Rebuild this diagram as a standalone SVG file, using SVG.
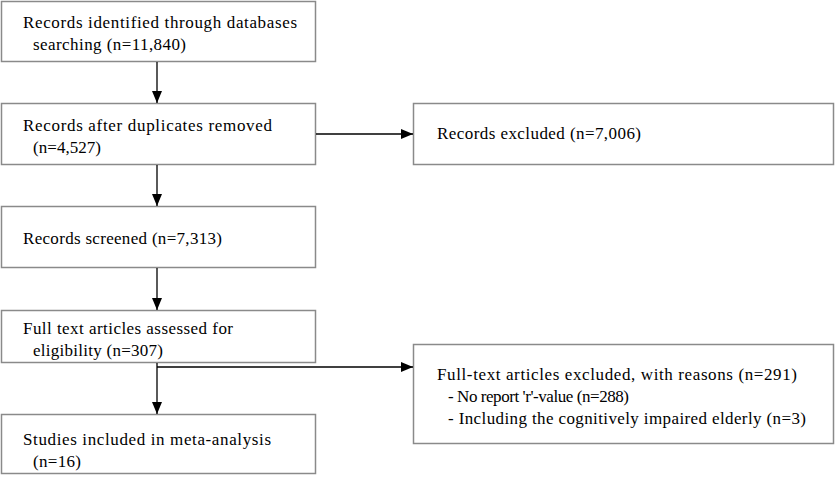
<svg xmlns="http://www.w3.org/2000/svg" width="835" height="477" viewBox="0 0 835 477">
<defs>
<marker id="ah" markerWidth="12" markerHeight="10" refX="12" refY="5" orient="auto" markerUnits="userSpaceOnUse">
<path d="M0,0 L12,5 L0,10 Z" fill="#000"/>
</marker>
<style>
.box{fill:#fff;stroke:#8a8a8a;stroke-width:1.5}
.t{font-family:"Liberation Serif","Times New Roman",serif;font-size:17px;fill:#000}
.c{stroke:#000;stroke-width:1.3;fill:none}
</style>
</defs>
<rect width="835" height="477" fill="#fff"/>
<g id="n1"><rect class="box" x="1.5" y="1.5" width="314" height="60"/>
<text class="t" x="23" y="28" textLength="274">Records identified through databases</text>
<text class="t" x="33" y="50" textLength="153">searching (n=11,840)</text></g>
<g id="n2"><rect class="box" x="1.5" y="103.5" width="314" height="61"/>
<text class="t" x="23" y="131" textLength="249">Records after duplicates removed</text>
<text class="t" x="33" y="153" textLength="68">(n=4,527)</text></g>
<g id="n3"><rect class="box" x="413.5" y="103.5" width="420" height="61"/>
<text class="t" x="437" y="139" textLength="204">Records excluded (n=7,006)</text></g>
<g id="n4"><rect class="box" x="1.5" y="206.5" width="314" height="61"/>
<text class="t" x="23" y="244" textLength="199">Records screened (n=7,313)</text></g>
<g id="n5"><rect class="box" x="1.5" y="310.5" width="314" height="52"/>
<text class="t" x="23" y="334" textLength="210">Full text articles assessed for</text>
<text class="t" x="33" y="356" textLength="130">eligibility (n=307)</text></g>
<g id="n6"><rect class="box" x="413.5" y="344.5" width="420" height="99"/>
<text class="t" x="437" y="380" textLength="360">Full-text articles excluded, with reasons (n=291)</text>
<text class="t" x="448" y="402" textLength="181">- No report 'r'-value (n=288)</text>
<text class="t" x="448" y="424" textLength="358">- Including the cognitively impaired elderly (n=3)</text></g>
<g id="n7"><rect class="box" x="1.5" y="414.5" width="314" height="59"/>
<text class="t" x="23" y="445" textLength="248">Studies included in meta-analysis</text>
<text class="t" x="33" y="467" textLength="48">(n=16)</text></g>
<g id="connectors">
<line class="c" x1="157" y1="62" x2="157" y2="103" marker-end="url(#ah)"/>
<line class="c" x1="157" y1="165" x2="157" y2="206" marker-end="url(#ah)"/>
<line class="c" x1="157" y1="268" x2="157" y2="310" marker-end="url(#ah)"/>
<line class="c" x1="157" y1="363" x2="157" y2="414" marker-end="url(#ah)"/>
<line class="c" x1="316" y1="134" x2="413" y2="134" marker-end="url(#ah)"/>
<line class="c" x1="157" y1="367" x2="413" y2="367" marker-end="url(#ah)"/>
</g>
</svg>
